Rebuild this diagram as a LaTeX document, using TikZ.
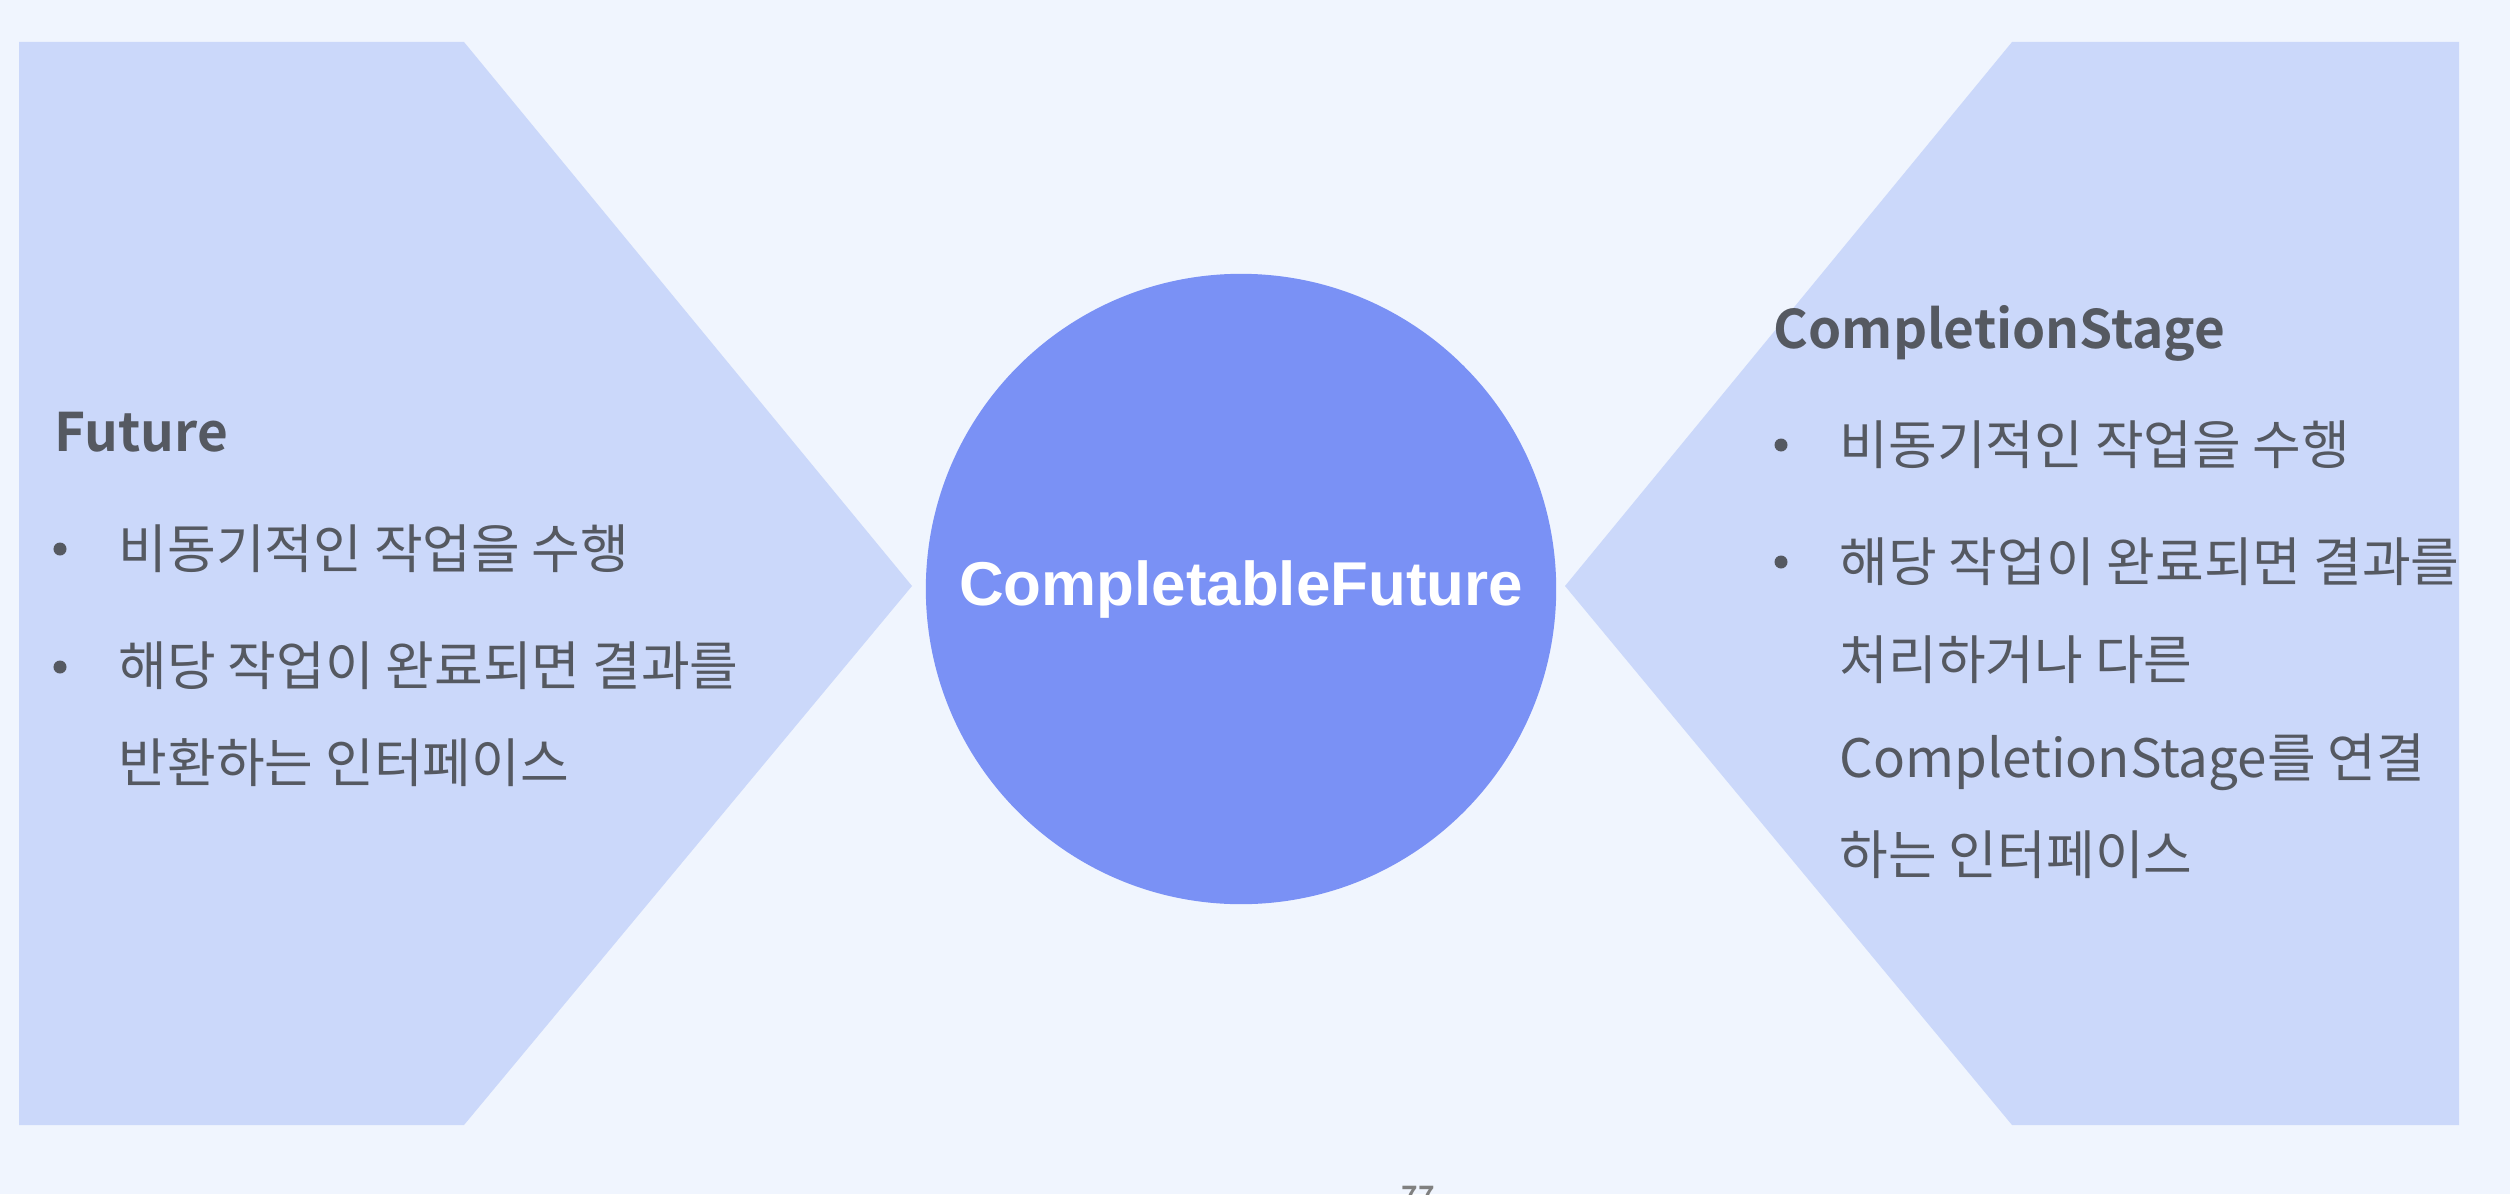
\documentclass[tikz,border=0pt]{standalone}
\usepackage{fontspec}
\setmainfont{Noto Sans CJK KR}[RawFeature=+palt,BoldFont={Noto Sans CJK KR Bold}]
\newfontfamily\corefont{Liberation Sans}[BoldFont={Liberation Sans Bold}]
\usepackage{xcolor}
\usetikzlibrary{positioning}
\definecolor{bgblue}{RGB}{240,245,254}
\definecolor{panelblue}{RGB}{203,216,250}
\definecolor{coreblue}{RGB}{122,145,245}
\definecolor{textgray}{RGB}{85,89,97}
\definecolor{pagegray}{RGB}{128,128,128}
\tikzset{
  head/.style={anchor=base west,inner sep=0pt,text=textgray,font=\fontsize{15.1}{18}\selectfont\bfseries},
  bodytxt/.style={anchor=base west,inner sep=0pt,text=textgray,font=\fontsize{15.05}{18}\selectfont},
  dot/.style={circle,fill=textgray,inner sep=0pt,minimum size=0.13cm},
  core/.style={circle,fill=coreblue,inner sep=0pt,minimum size=6.3cm,text=white,font=\corefont\bfseries\fontsize{17.6}{20}\selectfont},
}

\begin{document}
\begin{tikzpicture}[x=0.01cm,y=-0.01cm]
\fill[bgblue] (0,0) rectangle (2510,1194);
\useasboundingbox (0,0) rectangle (2510,1194);
% side panels
\fill[panelblue] (19,42) -- (464,42) -- (912,586) -- (464,1125) -- (19,1125) -- cycle;
\fill[panelblue] (2459,42) -- (2012,42) -- (1565,586) -- (2012,1125) -- (2459,1125) -- cycle;
\node[core] (cf) at (1241,589) {CompletableFuture};
% Future
\node[head] (fut) at (54,451) {Future};
\node[dot] (fb1) at (60,549) {};
\node[bodytxt] (f1) at (118,568) {비동기적인 작업을 수행};
\node[dot] (fb2) at (60,667) {};
\node[bodytxt] (f2) at (118,685) {해당 작업이 완료되면 결과를};
\node[bodytxt] (f3) at (118,782) {반환하는 인터페이스};
% CompletionStage
\node[head] (cs) at (1773,348) {CompletionStage};
\node[dot] (cb1) at (1781,445) {};
\node[bodytxt] (c1) at (1839,464) {비동기적인 작업을 수행};
\node[dot] (cb2) at (1781,562) {};
\node[bodytxt] (c2) at (1839,581) {해당 작업이 완료되면 결과를};
\node[bodytxt] (c3) at (1839,679) {처리하거나 다른};
\node[bodytxt] (c4) at (1839,777) {CompletionStage를 연결};
\node[bodytxt] (c5) at (1839,874) {하는 인터페이스};
\node[anchor=base,inner sep=0pt,text=pagegray,font=\fontsize{8}{10}\selectfont\bfseries] (pg) at (1418,1206) {77};
\end{tikzpicture}
\end{document}
